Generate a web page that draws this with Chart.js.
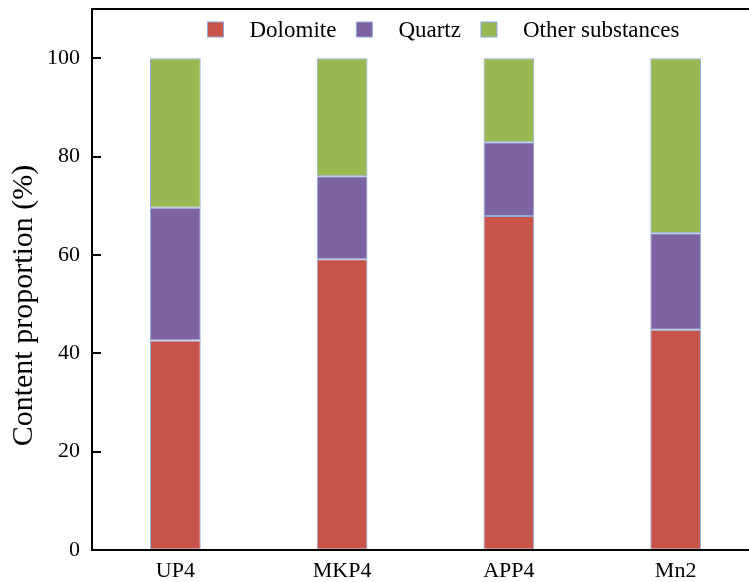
<!DOCTYPE html>
<html>
<head>
<meta charset="utf-8">
<script src="https://cdn.jsdelivr.net/npm/chart.js@4"></script>
<style>
    html, body { margin: 0; padding: 0; background: #fff; }
    #wrap { width: 749px; height: 582px; overflow: hidden; position: relative; }
    canvas { display: block; }
</style>
</head>
<body>
<div id="wrap"><canvas id="mineralChart" width="769" height="585"></canvas></div>
<script>
// 样品与各成分含量 (%)
const samples = ['UP4', 'MKP4', 'APP4', 'Mn2'];
const dolomite = [42.6, 59.1, 67.9, 44.8];
const quartz = [27.0, 16.9, 15.0, 19.6];
const otherSubstances = [30.4, 24.0, 17.1, 35.6];
const seriesNames = ['Dolomite', 'Quartz', 'Other substances'];
const yTicks = [0, 20, 40, 60, 80, 100];
const yTitle = 'Content proportion (%)';

const FONT = '"Liberation Serif", "Times New Roman", serif';
const EDGE = '#8EAADB';

// 边框、内向刻度、纵轴标题和图例
const framePlugin = {
    id: 'frame',
    afterDatasetsDraw(chart) {
        const { ctx, chartArea: a } = chart;
        const y = chart.scales.y;
        ctx.save();
        ctx.strokeStyle = '#000';
        ctx.lineWidth = 2;
        ctx.strokeRect(a.left, a.top, a.right - a.left, a.bottom - a.top);
        yTicks.forEach((v) => {
            const py = Math.round(y.getPixelForValue(v));
            ctx.beginPath();
            ctx.moveTo(a.left, py);
            ctx.lineTo(a.left + 9, py);
            ctx.stroke();
        });
        ctx.restore();
    },
    afterDraw(chart) {
        const { ctx, chartArea: a } = chart;
        ctx.save();
        // 纵轴标题（原图略偏下）
        ctx.translate(24, (a.top + a.bottom) / 2 + 26);
        ctx.rotate(-Math.PI / 2);
        ctx.font = '30px ' + FONT;
        ctx.fillStyle = '#000';
        ctx.textAlign = 'center';
        ctx.textBaseline = 'middle';
        ctx.fillText(yTitle, 0, 0);
        ctx.restore();

        // 图例
        ctx.save();
        ctx.font = '23px ' + FONT;
        ctx.textBaseline = 'alphabetic';
        let x = 207.5;
        chart.data.datasets.forEach((ds) => {
            ctx.fillStyle = ds.backgroundColor;
            ctx.fillRect(x, 22, 16, 15);
            ctx.strokeStyle = EDGE;
            ctx.lineWidth = 1;
            ctx.strokeRect(x, 22, 16, 15);
            x += 16 + 26;
            ctx.fillStyle = '#000';
            ctx.fillText(ds.label, x, 36.5);
            x += ctx.measureText(ds.label).width + 20;
        });
        ctx.restore();
    },
};

const ctx = document.getElementById('mineralChart').getContext('2d');
const makeSet = (label, data, color) => ({
    label,
    data,
    backgroundColor: color,
    borderColor: EDGE,
    borderWidth: 1,
    borderSkipped: false,
    categoryPercentage: 1,
    barPercentage: 0.304,
});

new Chart(ctx, {
    type: 'bar',
    data: {
        labels: samples,
        datasets: [
            makeSet(seriesNames[0], dolomite, '#C8534B'),
            makeSet(seriesNames[1], quartz, '#7E63A3'),
            makeSet(seriesNames[2], otherSubstances, '#9AB852'),
        ],
    },
    options: {
        responsive: false,
        animation: false,
        devicePixelRatio: 1,
        layout: { padding: { top: 9, left: 8, right: 10, bottom: 0 } },
        plugins: {
            legend: { display: false },
            tooltip: { enabled: false },
        },
        scales: {
            x: {
                stacked: true,
                afterFit: (scale) => { scale.height = 35; },
                grid: { display: false, drawTicks: false },
                border: { display: false },
                ticks: {
                    padding: 8,
                    color: '#000',
                    font: { family: FONT, size: 22 },
                },
            },
            y: {
                stacked: true,
                min: 0,
                max: 110,
                afterFit: (scale) => { scale.width = 84; },
                afterBuildTicks: (scale) => {
                    scale.ticks = yTicks.map((v) => ({ value: v }));
                },
                // 刻度线留空位，实际刻度由插件向内绘制
                grid: {
                    display: true,
                    drawOnChartArea: false,
                    drawTicks: true,
                    tickLength: 12,
                    tickColor: 'rgba(0,0,0,0)',
                },
                border: { display: false },
                ticks: {
                    padding: 0,
                    color: '#000',
                    font: { family: FONT, size: 22, lineHeight: 0.8 },
                },
            },
        },
    },
    plugins: [framePlugin],
});
</script>
</body>
</html>
